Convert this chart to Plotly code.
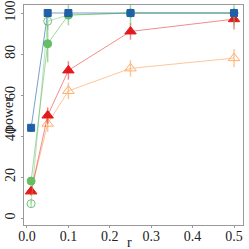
import plotly.graph_objects as go

r = [0.01, 0.05, 0.1, 0.25, 0.5]
blue_sq = [44, 100, 100, 100, 100]
blue_err = [2, 1, 1, 1, 1]
green_open = [7, 96, 99, 100, 100]
green_open_err = [2, 4, 1, 1, 1]
green_fill = [18, 85, 99, 100, 100]
green_fill_err = [2, 9, 5, 6, 6]
red_tri = [13, 50, 72, 91, 97]
red_err = [2, 4, 4.5, 4, 5]
orange_tri = [13, 46, 62, 73, 78]
orange_err = [2, 4, 4, 4, 4.5]

series = [
    (orange_tri, orange_err, "triangle-up-open", "#fdae6b", "rgba(253,174,107,0.7)", 10),
    (red_tri, red_err, "triangle-up", "#e31a1c", "rgba(227,26,28,0.5)", 10),
    (green_open, green_open_err, "circle-open", "#74c476", "rgba(116,196,118,0.5)", 8),
    (green_fill, green_fill_err, "circle", "#66bd63", "rgba(102,189,99,0.6)", 8),
    (blue_sq, blue_err, "square", "#2060a8", "rgba(32,96,168,0.6)", 7),
]

fig = go.Figure()
for y, e, sym, col, lcol, sz in series:
    fig.add_trace(go.Scatter(
        x=r, y=y, mode="lines+markers",
        error_y=dict(type="data", array=e, color=lcol, thickness=1.5, width=0),
        line=dict(color=lcol, width=1),
        marker=dict(symbol=sym, color=col, size=sz, line=dict(color=col, width=1)),
        showlegend=False,
    ))

font = dict(family="Liberation Serif, DejaVu Serif, serif", size=14, color="#222")
fig.update_layout(
    width=249, height=249,
    margin=dict(l=24, r=6, t=5, b=24),
    plot_bgcolor="white", paper_bgcolor="white",
    font=font,
    xaxis=dict(range=[-0.0072, 0.5217], tickvals=[0, 0.1, 0.2, 0.3, 0.4, 0.5],
               ticktext=["0.0", "0.1", "0.2", "0.3", "0.4", "0.5"],
               showgrid=False, zeroline=False, showline=True, linecolor="#999",
               mirror=True, linewidth=1, ticks="outside", ticklen=2, tickcolor="#999",
               ticklabelstandoff=-4, automargin=False),
    yaxis=dict(range=[-3.4, 103.9], tickvals=[0, 20, 40, 60, 80, 100],
               showgrid=False, zeroline=False, showline=True, linecolor="#999",
               mirror=True, linewidth=1, tickangle=-90, ticks="outside", ticklen=2,
               tickcolor="#999", automargin=False),
    annotations=[
        dict(text="r", xref="paper", yref="paper", x=0.482, y=0, yshift=-17,
             xanchor="center", yanchor="middle", showarrow=False, font=font),
        dict(text="power", xref="paper", yref="paper", x=0, y=0.5, xshift=-16,
             xanchor="center", yanchor="middle", textangle=-90, showarrow=False,
             font=font),
    ],
)
fig.write_html("out.html", post_script="document.body.style.margin='0';",
               config={"displayModeBar": False})
